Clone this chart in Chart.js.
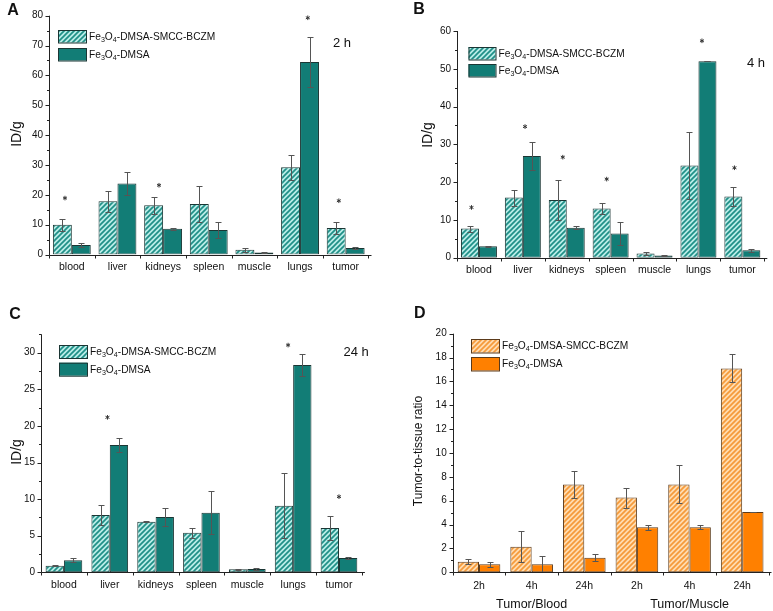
<!DOCTYPE html>
<html>
<head>
<meta charset="utf-8">
<script src="https://cdn.jsdelivr.net/npm/chart.js@4.4.1/dist/chart.umd.min.js"></script>
<style>
  html, body { margin: 0; padding: 0; background: #fff; }
  #wrap { position: relative; width: 773px; height: 611px; overflow: hidden; }
  canvas { position: absolute; }
</style>
</head>
<body>
<div id="wrap">
  <canvas id="cA" width="386" height="300" style="left:0;top:0"></canvas>
  <canvas id="cB" width="387" height="300" style="left:386px;top:0"></canvas>
  <canvas id="cC" width="386" height="311" style="left:0;top:300px"></canvas>
  <canvas id="cD" width="387" height="311" style="left:386px;top:300px"></canvas>
</div>
<script>
'use strict';

// ---- data -------------------------------------------------------------
const organs = ['blood', 'liver', 'kidneys', 'spleen', 'muscle', 'lungs', 'tumor'];
const seriesNames = ['Fe3O4-DMSA-SMCC-BCZM', 'Fe3O4-DMSA'];

// 2 h
const bczm2h    = [10.0, 17.8, 16.5, 16.9, 1.6, 29.2, 8.9];
const bczm2hErr = [2.0, 3.6, 2.9, 5.9, 0.6, 4.1, 2.0];
const dmsa2h    = [3.2, 23.8, 8.6, 8.2, 0.7, 64.5, 2.2];
const dmsa2hErr = [0.7, 3.8, 0.3, 2.6, 0.1, 8.5, 0.3];
const star2hIdx   = [0, 2, 5, 6];
const star2hShift = [-0.15, -0.09, 0.17, -0.15];
const star2hY     = [18.9, 23.2, 79.3, 18.0];

// 4 h
const bczm4h    = [7.7, 15.9, 15.3, 13.0, 1.1, 24.4, 16.2];
const bczm4hErr = [0.8, 2.1, 5.3, 1.5, 0.3, 8.9, 2.6];
const dmsa4h    = [3.0, 26.9, 7.9, 6.4, 0.6, 52.0, 2.0];
const dmsa4hErr = [0.1, 3.7, 0.4, 3.0, 0.1, 0.05, 0.4];
const star4hIdx   = [0, 1, 2, 3, 5, 6];
const star4hShift = [-0.17, 0.05, -0.09, -0.09, 0.08, -0.18];
const star4hY     = [13.3, 34.7, 26.6, 20.8, 57.4, 23.8];

// 24 h
const bczm24h    = [0.9, 7.83, 6.92, 5.42, 0.41, 9.10, 6.05];
const bczm24hErr = [0.05, 1.3, 0.1, 0.7, 0.05, 4.4, 1.7];
const dmsa24h    = [1.64, 17.39, 7.56, 8.15, 0.45, 28.31, 1.96];
const dmsa24hErr = [0.25, 1.0, 1.2, 2.9, 0.2, 1.5, 0.13];
const star24hIdx   = [1, 5, 6];
const star24hShift = [-0.05, -0.11, 0.0];
const star24hY     = [21.17, 31.04, 10.33];

// tumor-to-tissue ratio
const ratioLabels  = ['2h', '4h', '24h', '2h', '4h', '24h'];
const ratioGroups  = ['Tumor/Blood', 'Tumor/Muscle'];
const ratioBczm    = [0.89, 2.15, 7.37, 6.26, 7.37, 17.09];
const ratioBczmErr = [0.2, 1.3, 1.15, 0.83, 1.6, 1.18];
const ratioDmsa    = [0.67, 0.67, 1.23, 3.77, 3.77, 5.06];
const ratioDmsaErr = [0.22, 0.73, 0.28, 0.22, 0.17, 0.02];

// ---- helpers ----------------------------------------------------------
const FONT = '"Liberation Sans", Arial, sans-serif';
const TEAL   = { solid: '#127d76', bg: '#b9ece7', fg: '#1f8f87', edge: '#1b3634' };
const ORANGE = { solid: '#ff8000', bg: '#ffdcb0', fg: '#f59a3a', edge: '#5b3a1a' };

function hatch(bg, fg) {
  const s = 5;
  const c = document.createElement('canvas');
  c.width = s; c.height = s;
  const g = c.getContext('2d');
  g.fillStyle = bg; g.fillRect(0, 0, s, s);
  g.strokeStyle = fg; g.lineWidth = 1.7;
  g.beginPath();
  g.moveTo(0, s); g.lineTo(s, 0);
  g.moveTo(-1, 1); g.lineTo(1, -1);
  g.moveTo(s - 1, s + 1); g.lineTo(s + 1, s - 1);
  g.stroke();
  return g.createPattern(c, 'repeat');
}

// Fe3O4 -> Fe₃O₄ drawn with real subscripts
function drawChem(ctx, text, x, y, size) {
  ctx.textAlign = 'left';
  ctx.textBaseline = 'middle';
  text.split(/(\d)/).filter(Boolean).forEach((part) => {
    const sub = /^\d$/.test(part);
    ctx.font = (sub ? size * 0.7 : size) + 'px ' + FONT;
    ctx.fillText(part, x, sub ? y + size * 0.32 : y);
    x += ctx.measureText(part).width;
  });
}

function drawStar(ctx, x, y) {
  const r = 2.3;
  ctx.beginPath();
  for (let k = 0; k < 3; k++) {
    const a = Math.PI / 2 + k * Math.PI / 3;
    ctx.moveTo(x - r * Math.cos(a), y - r * Math.sin(a));
    ctx.lineTo(x + r * Math.cos(a), y + r * Math.sin(a));
  }
  ctx.stroke();
}

function decor(p) {
  return {
    id: 'decor',
    afterDatasetsDraw(chart) {
      const ctx = chart.ctx, xs = chart.scales.x, ys = chart.scales.y, a = chart.chartArea;
      const step = xs.getPixelForValue(1) - xs.getPixelForValue(0);
      ctx.save();

      // error bars
      ctx.strokeStyle = '#555';
      ctx.lineWidth = 1;
      chart.data.datasets.forEach((ds, i) => {
        chart.getDatasetMeta(i).data.forEach((bar, j) => {
          const e = ds.err[j];
          if (!e) return;
          const x = Math.round(bar.x) + 0.5;
          const y1 = Math.round(ys.getPixelForValue(ds.data[j] + e)) + 0.5;
          const y2 = Math.round(ys.getPixelForValue(Math.max(0, ds.data[j] - e))) + 0.5;
          ctx.beginPath();
          ctx.moveTo(x, y1); ctx.lineTo(x, y2);
          ctx.moveTo(x - 3, y1); ctx.lineTo(x + 3, y1);
          ctx.moveTo(x - 3, y2); ctx.lineTo(x + 3, y2);
          ctx.stroke();
        });
      });

      // axes with outward ticks
      ctx.strokeStyle = '#222';
      ctx.beginPath();
      const ax = Math.round(a.left) + 0.5, ay = Math.round(a.bottom) + 0.5;
      ctx.moveTo(ax, a.top); ctx.lineTo(ax, ay);
      ctx.moveTo(ax, ay); ctx.lineTo(a.right + 3, ay);
      for (let v = 0; v <= p.max + 1e-9; v += p.minor) {
        const y = Math.round(ys.getPixelForValue(v)) + 0.5;
        const major = Math.abs(v / p.major - Math.round(v / p.major)) < 1e-6;
        ctx.moveTo(ax - (major ? 4 : 2.5), y); ctx.lineTo(ax, y);
      }
      for (let k = 0; k <= chart.data.labels.length; k++) {
        const x = Math.round(xs.getPixelForValue(0) + (k - 0.5) * step) + 0.5;
        ctx.moveTo(x, ay); ctx.lineTo(x, ay + 3);
      }
      ctx.stroke();

      // significance stars
      ctx.strokeStyle = '#333';
      (p.starIdx || []).forEach((k, n) => {
        drawStar(ctx, xs.getPixelForValue(k) + p.starShift[n] * step, ys.getPixelForValue(p.starY[n]));
      });
      ctx.restore();
    },
    afterDraw(chart) {
      const ctx = chart.ctx, xs = chart.scales.x;
      ctx.save();
      ctx.fillStyle = '#111';

      // panel letter
      ctx.font = 'bold 16px ' + FONT;
      ctx.textAlign = 'center'; ctx.textBaseline = 'middle';
      ctx.fillText(p.letter, p.letterPos[0], p.letterPos[1]);

      // time label
      if (p.time) {
        ctx.font = '13px ' + FONT;
        ctx.textAlign = 'left';
        ctx.fillText(p.time, p.timePos[0], p.timePos[1]);
      }

      // y title
      ctx.save();
      ctx.translate(p.yTitlePos[0], p.yTitlePos[1]);
      ctx.rotate(-Math.PI / 2);
      ctx.font = p.yTitleSize + 'px ' + FONT;
      ctx.textAlign = 'center'; ctx.textBaseline = 'middle';
      ctx.fillText(p.yTitle, 0, 0);
      ctx.restore();

      // legend
      const L = p.legend;
      [0, 1].forEach((i) => {
        const y = L.y[i];
        ctx.fillStyle = chart.data.datasets[i].backgroundColor;
        ctx.fillRect(L.x, y, L.w, L.h);
        ctx.strokeStyle = p.col.edge;
        ctx.lineWidth = 1;
        ctx.strokeRect(L.x + 0.5, y + 0.5, L.w, L.h);
        ctx.fillStyle = '#111';
        drawChem(ctx, seriesNames[i], L.x + L.w + 3, y + L.h / 2 + 0.5, 10.2);
      });

      // group labels under the x axis
      if (p.groups) {
        ctx.font = '12.5px ' + FONT;
        ctx.textAlign = 'center'; ctx.textBaseline = 'middle';
        p.groups.forEach((g, i) => {
          ctx.fillText(g, xs.getPixelForValue(1 + i * 3), p.groupY);
        });
      }
      ctx.restore();
    }
  };
}

function makePanel(id, p) {
  const ctx = document.getElementById(id).getContext('2d');
  return new Chart(ctx, {
    type: 'bar',
    data: {
      labels: p.labels,
      datasets: [
        { label: seriesNames[0], data: p.a, err: p.aErr, backgroundColor: hatch(p.col.bg, p.col.fg),
          borderColor: p.col.edge, borderWidth: 1, borderSkipped: false },
        { label: seriesNames[1], data: p.b, err: p.bErr, backgroundColor: p.col.solid,
          borderColor: p.col.edge, borderWidth: 1, borderSkipped: false }
      ]
    },
    options: {
      responsive: false,
      animation: false,
      layout: { padding: p.pad },
      datasets: { bar: { categoryPercentage: p.cat, barPercentage: 1 } },
      plugins: { legend: { display: false }, tooltip: { enabled: false } },
      scales: {
        x: {
          offset: true,
          grid: { display: false, drawTicks: false },
          border: { display: false },
          ticks: { font: { family: FONT, size: 10.5 }, color: '#111', padding: p.xPad, maxRotation: 0, autoSkip: false },
          afterFit: (s) => { s.height = p.xh; }
        },
        y: {
          min: 0, max: p.max,
          grid: { display: false, drawTicks: false },
          border: { display: false },
          ticks: { stepSize: p.major, includeBounds: false, font: { family: FONT, size: 10 }, color: '#111', padding: 6 },
          afterFit: (s) => { s.width = p.yw; }
        }
      }
    },
    plugins: [decor(p)]
  });
}

// ---- panels -----------------------------------------------------------
makePanel('cA', {
  labels: organs, a: bczm2h, aErr: bczm2hErr, b: dmsa2h, bErr: dmsa2hErr, col: TEAL,
  max: 80, major: 10, minor: 5, cat: 0.83,
  pad: { top: 15.7, right: 17.5, left: 0, bottom: 0 }, yw: 49, xh: 45.5, xPad: 6,
  starIdx: star2hIdx, starShift: star2hShift, starY: star2hY,
  letter: 'A', letterPos: [13, 11], time: '2 h', timePos: [333, 43],
  yTitle: 'ID/g', yTitleSize: 14, yTitlePos: [17, 134],
  legend: { x: 58, y: [30, 48], w: 28, h: 12.5 }
});

makePanel('cB', {
  labels: organs, a: bczm4h, aErr: bczm4hErr, b: dmsa4h, bErr: dmsa4hErr, col: TEAL,
  max: 60, major: 10, minor: 5, cat: 0.82,
  pad: { top: 31, right: 8.7, left: 0, bottom: 0 }, yw: 71, xh: 42.3, xPad: 6,
  starIdx: star4hIdx, starShift: star4hShift, starY: star4hY,
  letter: 'B', letterPos: [33, 10], time: '4 h', timePos: [361, 63.5],
  yTitle: 'ID/g', yTitleSize: 14, yTitlePos: [42.5, 135],
  legend: { x: 82.5, y: [47, 64], w: 27, h: 12.5 }
});

makePanel('cC', {
  labels: organs, a: bczm24h, aErr: bczm24hErr, b: dmsa24h, bErr: dmsa24hErr, col: TEAL,
  max: 32.5, major: 5, minor: 2.5, cat: 0.8,
  pad: { top: 34.4, right: 24.1, left: 0, bottom: 0 }, yw: 41, xh: 38.7, xPad: 6.5,
  starIdx: star24hIdx, starShift: star24hShift, starY: star24hY,
  letter: 'C', letterPos: [15, 14.5], time: '24 h', timePos: [343.5, 52],
  yTitle: 'ID/g', yTitleSize: 14, yTitlePos: [17, 152],
  legend: { x: 59, y: [45, 62.7], w: 28, h: 13 }
});

makePanel('cD', {
  labels: ratioLabels, a: ratioBczm, aErr: ratioBczmErr, b: ratioDmsa, bErr: ratioDmsaErr, col: ORANGE,
  max: 20, major: 2, minor: 1, cat: 0.81,
  pad: { top: 33.7, right: 4.5, left: 0, bottom: 0 }, yw: 66.7, xh: 38.7, xPad: 7.5,
  groups: ratioGroups, groupY: 305,
  letter: 'D', letterPos: [33.7, 14],
  yTitle: 'Tumor-to-tissue ratio', yTitleSize: 12, yTitlePos: [32.5, 151],
  legend: { x: 85, y: [39, 57], w: 28, h: 13.5 }
});
</script>
</body>
</html>
